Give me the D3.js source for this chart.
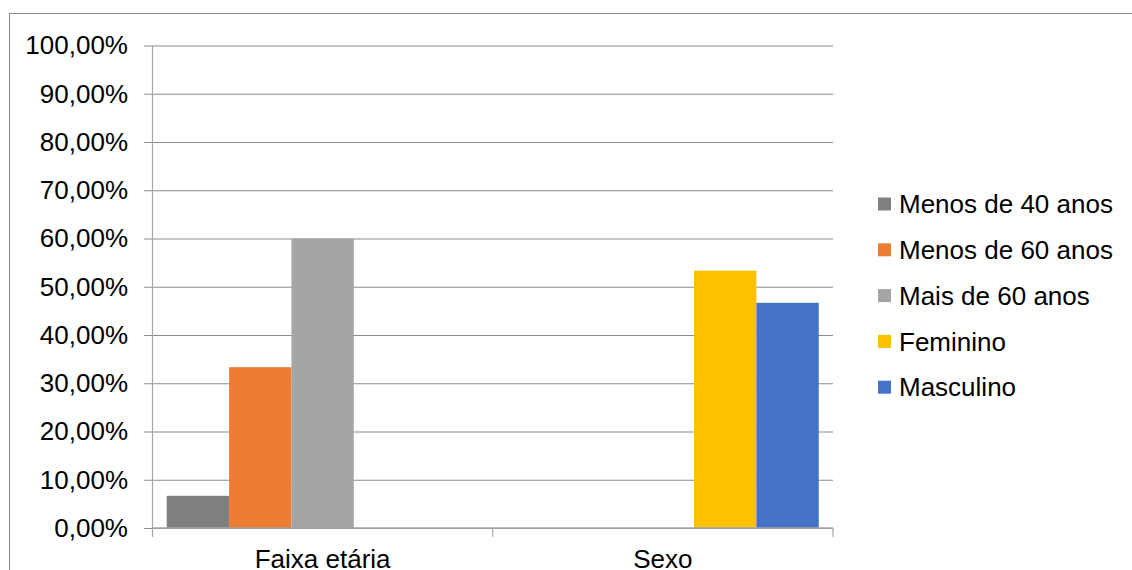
<!DOCTYPE html>
<html>
<head>
<meta charset="utf-8">
<script src="https://cdn.jsdelivr.net/npm/d3@7"></script>
<style>
  html, body { margin: 0; padding: 0; background: #fff; }
  svg { display: block; font-family: "Liberation Sans", Arial, sans-serif; }
</style>
</head>
<body>
<svg id="chart" width="1132" height="570"></svg>
<script>
// Categories on the horizontal axis
const categories = ["Faixa etária", "Sexo"];

// Series names and colours (legend order)
const seriesNames = ["Menos de 40 anos", "Menos de 60 anos", "Mais de 60 anos", "Feminino", "Masculino"];
const seriesColors = ["#7f7f7f", "#ed7d31", "#a5a5a5", "#ffc000", "#4472c4"];

// Percent values per series, one entry per category (null = no bar)
const menos40 = [6.67, null];
const menos60 = [33.33, null];
const mais60 = [60.00, null];
const feminino = [null, 53.33];
const masculino = [null, 46.67];
const seriesValues = [menos40, menos60, mais60, feminino, masculino];

// Value axis ticks
const yTicks = [0, 10, 20, 30, 40, 50, 60, 70, 80, 90, 100];

const svg = d3.select("#chart");
const fontSize = 26;

// Outer chart frame
svg.append("rect")
  .attr("x", 9.5).attr("y", 13.5)
  .attr("width", 1140).attr("height", 580)
  .attr("fill", "none").attr("stroke", "#888888").attr("stroke-width", 1);

const plotLeft = 152.5, plotRight = 833, plotTop = 45.5, plotBottom = 528;

const y = d3.scaleLinear().domain([0, 100]).range([plotBottom, plotTop]);
const x = d3.scaleBand().domain(categories).range([plotLeft, plotRight]).paddingInner(0).paddingOuter(0);
const xs = d3.scaleBand().domain(d3.range(seriesNames.length))
  .range([0, x.bandwidth()]).paddingInner(0).paddingOuter(0.2285);

const fmt = v => d3.format(".2f")(v).replace(".", ",") + "%";

// Gridlines with short outside ticks and labels
const gridLeft = 144;
const yAxis = svg.append("g")
  .attr("transform", `translate(${gridLeft},0)`)
  .call(d3.axisLeft(y).tickValues(yTicks).tickFormat(fmt)
    .tickSize(-(plotRight - gridLeft)).tickPadding(16));
yAxis.select(".domain").remove();
yAxis.selectAll(".tick line").attr("stroke", "#8c8c8c").attr("stroke-width", 1.2);
yAxis.selectAll(".tick text")
  .attr("font-size", fontSize).attr("fill", "#000")
  .attr("font-family", "'Liberation Sans', Arial, sans-serif");

// Bars
const barData = [];
seriesValues.forEach((vals, si) => {
  vals.forEach((v, ci) => {
    if (v !== null) barData.push({ si, cat: categories[ci], v });
  });
});
svg.append("g").selectAll("rect")
  .data(barData)
  .join("rect")
  .attr("x", d => x(d.cat) + xs(d.si))
  .attr("width", xs.bandwidth())
  .attr("y", d => y(d.v))
  .attr("height", d => y(0) - y(d.v))
  .attr("fill", d => seriesColors[d.si]);

// Vertical axis line
svg.append("line")
  .attr("x1", plotLeft).attr("x2", plotLeft)
  .attr("y1", plotTop).attr("y2", plotBottom)
  .attr("stroke", "#a6a6a6").attr("stroke-width", 1.2);

// Category axis: baseline, boundary ticks, labels
const boundaries = categories.map(c => x(c)).concat([x(categories[categories.length - 1]) + x.bandwidth()]);
const xb = svg.append("g");
xb.append("line")
  .attr("x1", plotLeft).attr("x2", plotRight)
  .attr("y1", plotBottom).attr("y2", plotBottom)
  .attr("stroke", "#a6a6a6").attr("stroke-width", 1.5);
xb.selectAll("line.btick")
  .data(boundaries)
  .join("line")
  .attr("class", "btick")
  .attr("x1", d => d).attr("x2", d => d)
  .attr("y1", plotBottom).attr("y2", plotBottom + 9)
  .attr("stroke", "#a6a6a6").attr("stroke-width", 1.2);
xb.selectAll("text")
  .data(categories)
  .join("text")
  .attr("x", d => x(d) + x.bandwidth() / 2)
  .attr("y", 568)
  .attr("text-anchor", "middle")
  .attr("font-size", fontSize)
  .attr("fill", "#000")
  .text(d => d);

// Legend
const legend = svg.append("g").attr("transform", "translate(878,204)");
const rowStep = 45.8;
const items = legend.selectAll("g")
  .data(seriesNames)
  .join("g")
  .attr("transform", (d, i) => `translate(0,${i * rowStep})`);
items.append("rect")
  .attr("x", 0).attr("y", -6.5)
  .attr("width", 13).attr("height", 13)
  .attr("fill", (d, i) => seriesColors[i]);
items.append("text")
  .attr("x", 21).attr("y", 0).attr("dy", "0.35em")
  .attr("font-size", fontSize).attr("fill", "#000")
  .text(d => d);
</script>
</body>
</html>
